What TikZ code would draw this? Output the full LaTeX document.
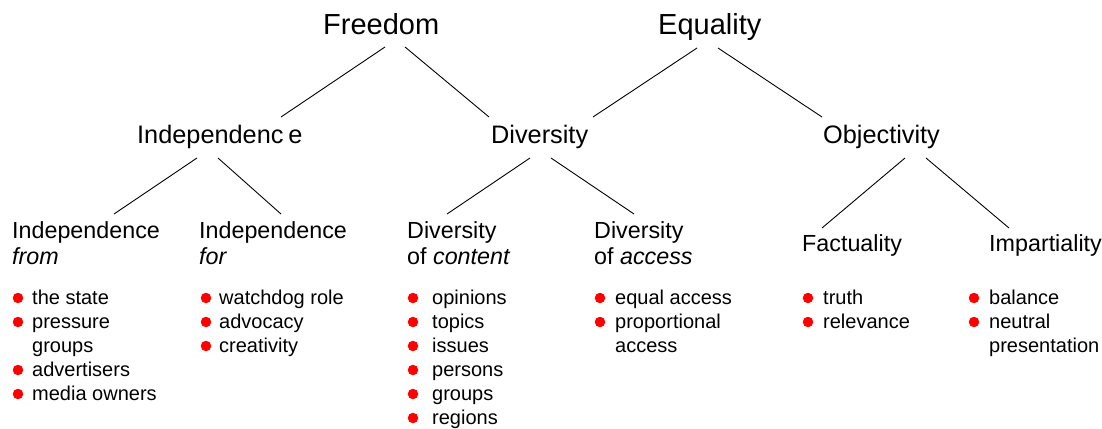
\documentclass[tikz,border=0pt]{standalone}
\usepackage{fontspec}
\setmainfont{Liberation Sans}
\usetikzlibrary{calc}
\begin{document}
\begin{tikzpicture}[x=1pt,y=-1pt,
  lbl/.style={inner sep=0pt,anchor=base west},
  topl/.style={lbl,font=\fontsize{29}{32}\selectfont},
  midl/.style={lbl,font=\fontsize{25.3}{28}\selectfont},
  lowl/.style={lbl,font=\fontsize{23.3}{26}\selectfont},
  item/.style={lbl,font=\fontsize{20}{24}\selectfont},
  dot/.style={circle,fill=red,inner sep=0pt,minimum size=10.5pt},
  link/.style={draw=black,line width=0.9pt}]
\useasboundingbox (0,0) rectangle (1102,428);
% level 1
\node[topl] (fr) at (323,35) {Freedom};
\node[topl] (eq) at (658,35) {Equality};
% level 2
\node[midl] (ind) at (137,143) {Independenc\kern5pt e};
\node[midl] (div) at (491,143) {Diversity};
\node[midl] (obj) at (823,143) {Objectivity};
% level 3
\node[lowl] (ifrom) at (12,238) {Independence};
\node[lowl] (ifromb) at (12,264) {\itshape from};
\node[lowl] (ifor) at (199,238) {Independence};
\node[lowl] (iforb) at (199,264) {\itshape for};
\node[lowl] (dcon) at (407,238) {Diversity};
\node[lowl] (dconb) at (407,264) {of \textit{content}};
\node[lowl] (dacc) at (594,238) {Diversity};
\node[lowl] (daccb) at (594,264) {of \textit{access}};
\node[lowl] (fact) at (802,251) {Factuality};
\node[lowl] (imp) at (989,251) {Impartiality};
% connectors
\draw[link] ($(fr.base west)+(62,12)$) -- ($(ind.base west)+(144,-26)$);
\draw[link] ($(fr.base west)+(82,12)$) -- ($(div.base west)+(-2,-26)$);
\draw[link] ($(eq.base west)+(39,13)$) -- ($(div.base west)+(102,-26)$);
\draw[link] ($(eq.base west)+(60,13)$) -- ($(obj.base west)+(-1,-26)$);
\draw[link] ($(ind.base west)+(60,15)$) -- ($(ifrom.base west)+(102,-24)$);
\draw[link] ($(ind.base west)+(81,15)$) -- ($(ifor.base west)+(82,-24)$);
\draw[link] ($(div.base west)+(39,15)$) -- ($(dcon.base west)+(40,-24)$);
\draw[link] ($(div.base west)+(60,15)$) -- ($(dacc.base west)+(40,-24)$);
\draw[link] ($(obj.base west)+(82,15)$) -- ($(fact.base west)+(20,-23)$);
\draw[link] ($(obj.base west)+(103,15)$) -- ($(imp.base west)+(20,-23)$);
% bullets column 1
\node[dot] (b11) at (18,298) {};
\node[item] (t11) at (32,304) {the state};
\node[dot] (b12) at (18,322) {};
\node[item] (t12) at (32,328) {pressure};
\node[item] (t12b) at (32,352) {groups};
\node[dot] (b13) at (18,370) {};
\node[item] (t13) at (32,376) {advertisers};
\node[dot] (b14) at (18,394) {};
\node[item] (t14) at (32,400) {media owners};
% column 2
\node[dot] (b21) at (206,298) {};
\node[item] (t21) at (219,304) {watchdog role};
\node[dot] (b22) at (206,322) {};
\node[item] (t22) at (219,328) {advocacy};
\node[dot] (b23) at (206,346) {};
\node[item] (t23) at (219,352) {creativity};
% column 3
\node[dot] (b31) at (413,298) {};
\node[item] (t31) at (432,304) {opinions};
\node[dot] (b32) at (413,322) {};
\node[item] (t32) at (432,328) {topics};
\node[dot] (b33) at (413,346) {};
\node[item] (t33) at (432,352) {issues};
\node[dot] (b34) at (413,370) {};
\node[item] (t34) at (432,376) {persons};
\node[dot] (b35) at (413,394) {};
\node[item] (t35) at (432,400) {groups};
\node[dot] (b36) at (413,418) {};
\node[item] (t36) at (432,424) {regions};
% column 4
\node[dot] (b41) at (600,298) {};
\node[item] (t41) at (615,304) {equal access};
\node[dot] (b42) at (600,322) {};
\node[item] (t42) at (615,328) {proportional};
\node[item] (t42b) at (615,352) {access};
% column 5
\node[dot] (b51) at (808,298) {};
\node[item] (t51) at (823,304) {truth};
\node[dot] (b52) at (808,322) {};
\node[item] (t52) at (823,328) {relevance};
% column 6
\node[dot] (b61) at (974,298) {};
\node[item] (t61) at (989,304) {balance};
\node[dot] (b62) at (974,322) {};
\node[item] (t62) at (989,328) {neutral};
\node[item] (t62b) at (989,352) {presentation};
\end{tikzpicture}
\end{document}
